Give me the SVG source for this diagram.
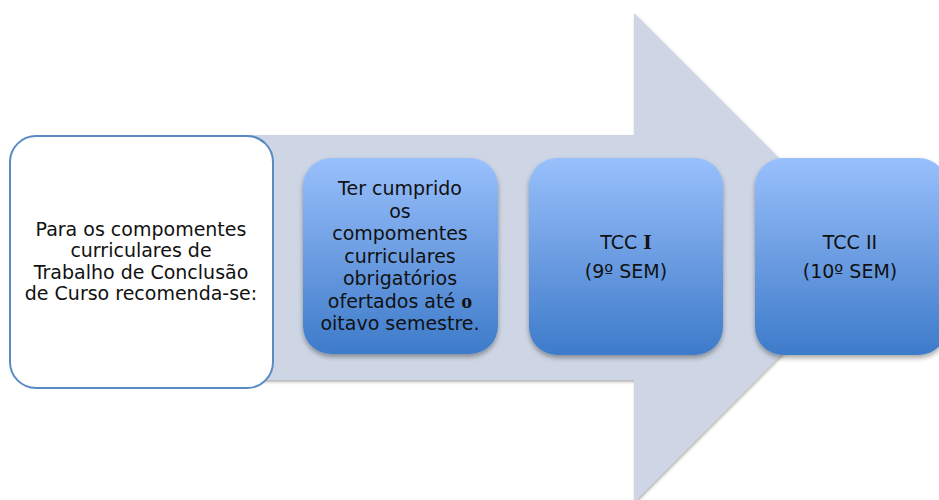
<svg xmlns="http://www.w3.org/2000/svg" width="939" height="500" viewBox="0 0 939 500">
<style>
text{font-family:"DejaVu Sans","Liberation Sans",sans-serif;font-size:19px;fill:#111;text-anchor:middle}
.b{font-family:"Liberation Serif",serif;font-weight:bold;font-size:22px}
.blue{fill:url(#g);filter:url(#sh)}
</style>
<defs>
<linearGradient id="g" x1="0" y1="0" x2="0" y2="1">
<stop offset="0" stop-color="#98C0FC"/>
<stop offset="0.5" stop-color="#6C9DE2"/>
<stop offset="1" stop-color="#3D7BCA"/>
</linearGradient>
<filter id="sh" x="-10%" y="-10%" width="120%" height="125%">
<feDropShadow dx="0" dy="3" stdDeviation="2.5" flood-color="#000" flood-opacity="0.35"/>
</filter>
<filter id="ash" x="-5%" y="-5%" width="110%" height="110%">
<feDropShadow dx="1" dy="2" stdDeviation="1.5" flood-color="#000" flood-opacity="0.3"/>
</filter>
</defs>
<g id="arrow">
<polygon points="140,135 634,135 634,13 878,257 634,502 634,380 140,380" fill="#CED6E5" filter="url(#ash)"/>
</g>
<g id="intro">
<rect x="10" y="136" width="263" height="252" rx="26" fill="#fff" stroke="#5A8AC6" stroke-width="2"/>
<text x="141" y="236">Para os compomentes</text>
<text x="141" y="257">curriculares de</text>
<text x="141" y="278.5">Trabalho de Conclusão</text>
<text x="141" y="300">de Curso recomenda-se:</text>
</g>
<g id="req">
<rect class="blue" x="303" y="158" width="195" height="196" rx="28"/>
<text x="400" y="195">Ter cumprido</text>
<text x="400" y="217.5">os</text>
<text x="400" y="240">compomentes</text>
<text x="400" y="262.5">curriculares</text>
<text x="400" y="285">obrigatórios</text>
<text x="400" y="307.5">ofertados até <tspan class="b">o</tspan></text>
<text x="400" y="330">oitavo semestre.</text>
</g>
<g id="tcc1">
<rect class="blue" x="529" y="158" width="194" height="197" rx="28"/>
<text x="626" y="249">TCC <tspan class="b">I</tspan></text>
<text x="626" y="278">(9º SEM)</text>
</g>
<g id="tcc2">
<rect class="blue" x="755" y="158" width="192" height="197" rx="28"/>
<text x="850" y="249">TCC II</text>
<text x="850" y="278">(10º SEM)</text>
</g>
<g id="connectors"/>
</svg>
